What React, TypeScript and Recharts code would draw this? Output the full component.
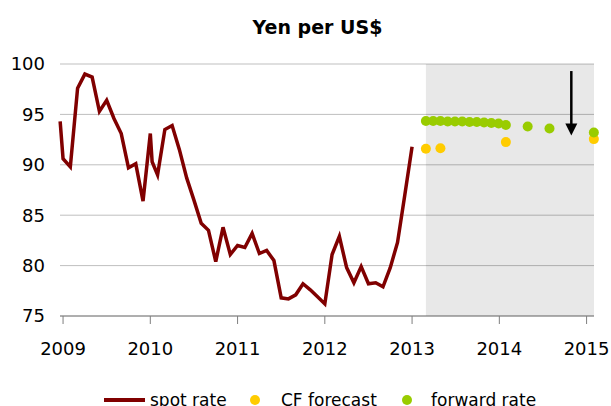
import {
  ComposedChart,
  Line,
  Scatter,
  XAxis,
  YAxis,
  CartesianGrid,
  ReferenceArea,
  ReferenceLine,
} from "recharts";

// months counted from Jan 2009
const spotMonths = [
  -0.4, 0, 1, 2, 3, 4, 5, 6, 7, 8, 9, 10, 11, 12, 12.25, 13, 14, 15, 16, 17,
  18, 19, 20, 21, 22, 23, 24, 25, 26, 27, 28, 29, 30, 31, 32, 33, 34, 35, 36,
  37, 38, 39, 40, 41, 42, 43, 44, 45, 46, 47, 48,
];
const spotRates = [
  94.3, 90.6, 89.8, 97.6, 99.0, 98.7, 95.3, 96.4, 94.6, 93.1, 89.7, 90.1, 86.4,
  93.1, 90.3, 89.0, 93.5, 93.9, 91.5, 88.7, 86.5, 84.2, 83.5, 80.4, 83.8, 81.1,
  82.0, 81.8, 83.2, 81.2, 81.5, 80.5, 76.8, 76.7, 77.1, 78.2, 77.6, 76.9, 76.2,
  81.1, 82.9, 79.8, 78.3, 79.9, 78.2, 78.3, 77.9, 79.8, 82.3, 87.0, 91.8,
];

const forwardMonths = [
  49.9, 50.9, 51.9, 52.9, 53.9, 54.9, 55.9, 56.9, 57.9, 58.9, 59.9, 60.9, 63.9,
  66.9, 73.0,
];
const forwardRates = [
  94.35, 94.35, 94.35, 94.3, 94.3, 94.3, 94.25, 94.25, 94.2, 94.15, 94.1,
  93.95, 93.8, 93.6, 93.2,
];

const cfMonths = [49.9, 51.9, 60.9, 73.0];
const cfRates = [91.6, 91.65, 92.25, 92.55];

const yearTicks = [2009, 2010, 2011, 2012, 2013, 2014, 2015];
const rateTicks = [75, 80, 85, 90, 95, 100];

const arrowMonth = 69.9;
const arrowFrom = 99.3;
const arrowTo = 92.9;

const toYear = (m: number) => 2009 + m / 12;

const spotData = spotMonths.map((m, i) => ({ t: toYear(m), v: spotRates[i] }));
const forwardData = forwardMonths.map((m, i) => ({ t: toYear(m), v: forwardRates[i] }));
const cfData = cfMonths.map((m, i) => ({ t: toYear(m), v: cfRates[i] }));

const X_MIN = 2008.965;
const X_MAX = 2015.085;

const SPOT = "#800000";
const CF = "#ffcc00";
const FWD = "#99cc00";
const FONT = "'DejaVu Sans', Verdana, sans-serif";

if (typeof document !== "undefined") {
  document.body.style.margin = "0";
}

const Dot = (color: string) => (p: any) => (
  <circle cx={p.cx} cy={p.cy} r={5} fill={color} stroke="none" />
);

const Arrow = (p: any) => {
  const { x1, y1, x2, y2 } = p;
  return (
    <g>
      <line x1={x1} y1={y1} x2={x2} y2={y2 - 10} stroke="#000" strokeWidth={2.5} />
      <polygon points={`${x2 - 6},${y2 - 12} ${x2 + 6},${y2 - 12} ${x2},${y2}`} fill="#000" />
    </g>
  );
};

export default function App() {
  return (
    <div
      style={{
        position: "relative",
        width: 611,
        height: 406,
        overflow: "hidden",
        fontFamily: FONT,
        background: "#fff",
      }}
    >
      <div
        style={{
          position: "absolute",
          top: 16,
          left: 0,
          width: 635,
          textAlign: "center",
          fontWeight: "bold",
          fontSize: 19,
          lineHeight: "22px",
          color: "#000",
        }}
      >
        Yen per US$
      </div>
      <ComposedChart
        width={611}
        height={406}
        margin={{ top: 64, right: 17, left: 0, bottom: 0 }}
      >
        <ReferenceArea
          x1={toYear(forwardMonths[0])}
          x2={X_MAX}
          y1={75}
          y2={100}
          fill="#000"
          fillOpacity={0.09}
          stroke="none"
        />
        <CartesianGrid vertical={false} stroke="#bfbfbf" />
        <XAxis
          type="number"
          dataKey="t"
          domain={[X_MIN, X_MAX]}
          ticks={yearTicks}
          height={90}
          tickSize={8}
          tickMargin={18}
          stroke="#7f7f7f"
          tick={{ fill: "#000", fontSize: 18, fontFamily: FONT }}
        />
        <YAxis
          type="number"
          domain={[75, 100]}
          ticks={rateTicks}
          width={60}
          axisLine={false}
          tickLine={false}
          tickSize={0}
          tickMargin={15}
          tick={{ fill: "#000", fontSize: 18, fontFamily: FONT }}
        />
        <Line
          data={spotData}
          dataKey="v"
          type="linear"
          stroke={SPOT}
          strokeWidth={3.5}
          dot={false}
          isAnimationActive={false}
        />
        <Scatter data={cfData} dataKey="v" shape={Dot(CF)} isAnimationActive={false} />
        <Scatter data={forwardData} dataKey="v" shape={Dot(FWD)} isAnimationActive={false} />
        <ReferenceLine
          segment={[
            { x: toYear(arrowMonth), y: arrowFrom },
            { x: toYear(arrowMonth), y: arrowTo },
          ]}
          shape={Arrow}
        />
      </ComposedChart>
      <div
        style={{
          position: "absolute",
          top: 390,
          left: 0,
          width: 611,
          height: 20,
          fontSize: 17,
          lineHeight: "20px",
          color: "#000",
        }}
      >
        <div style={{ position: "absolute", left: 104, top: 8, width: 41, height: 4, background: SPOT }} />
        <span style={{ position: "absolute", left: 150, top: 0 }}>spot rate</span>
        <div style={{ position: "absolute", left: 249.5, top: 5, width: 10, height: 10, borderRadius: 5, background: CF }} />
        <span style={{ position: "absolute", left: 281, top: 0 }}>CF forecast</span>
        <div style={{ position: "absolute", left: 402, top: 5, width: 10, height: 10, borderRadius: 5, background: FWD }} />
        <span style={{ position: "absolute", left: 431, top: 0, whiteSpace: "nowrap" }}>forward rate</span>
      </div>
    </div>
  );
}
